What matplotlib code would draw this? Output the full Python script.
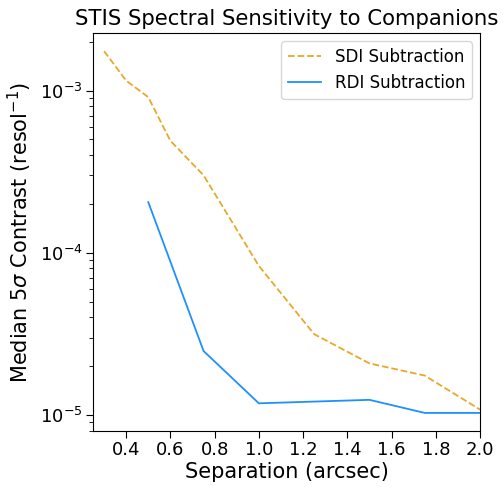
import matplotlib
matplotlib.use("Agg")
import matplotlib.pyplot as plt

sdi_sep = [0.3, 0.4, 0.5, 0.6, 0.75, 1.0, 1.25, 1.5, 1.75, 2.0]
sdi_contrast = [1.75e-3, 1.15e-3, 9.1e-4, 4.9e-4, 3.0e-4, 8.3e-5, 3.15e-5, 2.08e-5, 1.75e-5, 1.08e-5]
rdi_sep = [0.5, 0.75, 1.0, 1.5, 1.75, 2.0]
rdi_contrast = [2.05e-4, 2.48e-5, 1.18e-5, 1.24e-5, 1.03e-5, 1.03e-5]

fig = plt.figure(figsize=(5.04, 4.87), dpi=100)
ax = fig.add_axes([93/504, 1 - 431/487, (480-93)/504, (431-33)/487])
ax.plot(sdi_sep, sdi_contrast, '--', color='#e8a82a', lw=1.3, label='SDI Subtraction')
ax.plot(rdi_sep, rdi_contrast, '-', color='dodgerblue', lw=1.3, label='RDI Subtraction')
ax.set_yscale('log')
ax.set_xlim(0.25, 2.0)
ax.set_xticks([0.4, 0.6, 0.8, 1.0, 1.2, 1.4, 1.6, 1.8, 2.0])
ax.tick_params(axis='both', which='major', labelsize=13, length=5, pad=2.5)
ax.tick_params(axis='both', which='minor', length=3)
ax.set_xlabel('Separation (arcsec)', fontsize=15, labelpad=2)
ax.set_ylabel(r'Median 5$\sigma$ Contrast (resol$^{-1}$)', fontsize=15)
ax.set_title('STIS Spectral Sensitivity to Companions', fontsize=15.3)
ax.legend(loc='upper right', fontsize=12)
fig.savefig('out.png', dpi=100)
